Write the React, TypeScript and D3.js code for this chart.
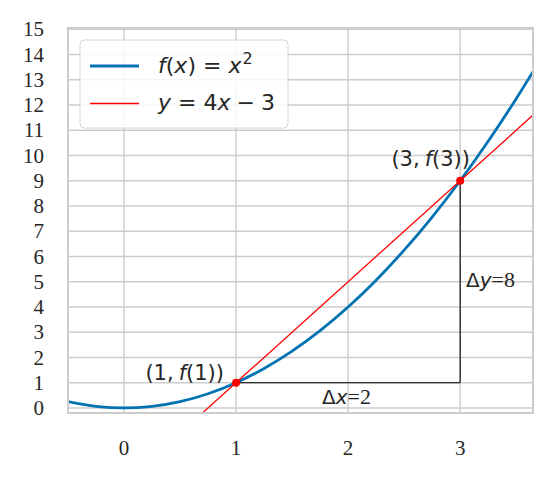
import React from "react";
import * as d3 from "d3";

const W = 552;
const H = 479;

// Data
const xTicks = [0, 1, 2, 3];
const yTicks = [0, 1, 2, 3, 4, 5, 6, 7, 8, 9, 10, 11, 12, 13, 14, 15];
const curveX = [-0.5, -0.25, 0, 0.25, 0.5, 0.75, 1, 1.25, 1.5, 1.75, 2, 2.25, 2.5, 2.75, 3, 3.25, 3.5, 3.65];
const curveY = [0.25, 0.0625, 0, 0.0625, 0.25, 0.5625, 1, 1.5625, 2.25, 3.0625, 4, 5.0625, 6.25, 7.5625, 9, 10.5625, 12.25, 13.3225];
const tangentX = [0.7, 3.65];
const tangentY = [-0.2, 11.6];
const pointsX = [1, 3];
const pointsY = [1, 9];
const xDomain = [-0.5, 3.65];
const yDomain = [-0.2, 15.05];

const MATH = "DejaVu Sans, sans-serif";
const SERIF = "Liberation Serif, serif";

export default function App() {
  const left = 68, right = 533, top = 28, bottom = 413;
  const x = d3.scaleLinear().domain(xDomain).range([left, right]);
  const y = d3.scaleLinear().domain(yDomain).range([bottom, top]);

  const curvePts: [number, number][] = curveX.map((v, i) => [v, curveY[i]]);
  const line = d3
    .line<[number, number]>()
    .x((d) => x(d[0]))
    .y((d) => y(d[1]))
    .curve(d3.curveMonotoneX);

  const grid = "#cccccc";
  const blue = "#0173B2";
  const red = "#ff0000";

  return (
    <svg width={W} height={H} style={{ position: "absolute", left: 0, top: 0 }}>
      <defs>
        <clipPath id="plotclip">
          <rect x={left} y={top} width={right - left} height={bottom - top} />
        </clipPath>
      </defs>
      <rect x={0} y={0} width={W} height={H} fill="#ffffff" />
      {/* grid */}
      {xTicks.map((t) => (
        <line key={"gx" + t} x1={x(t)} x2={x(t)} y1={top} y2={bottom} stroke={grid} strokeWidth={1.4} />
      ))}
      {yTicks.map((t) => (
        <line key={"gy" + t} x1={left} x2={right} y1={y(t)} y2={y(t)} stroke={grid} strokeWidth={1.4} />
      ))}
      <g clipPath="url(#plotclip)">
        <path d={line(curvePts) || ""} fill="none" stroke={blue} strokeWidth={2.8} />
        <line
          x1={x(tangentX[0])}
          y1={y(tangentY[0])}
          x2={x(tangentX[1])}
          y2={y(tangentY[1])}
          stroke={red}
          strokeWidth={1.3}
        />
        <line x1={x(pointsX[0])} y1={y(pointsY[0])} x2={x(pointsX[1])} y2={y(pointsY[0])} stroke="#000" strokeWidth={1.1} />
        <line x1={x(pointsX[1])} y1={y(pointsY[0])} x2={x(pointsX[1])} y2={y(pointsY[1])} stroke="#000" strokeWidth={1.1} />
        {pointsX.map((px, i) => (
          <circle key={"p" + i} cx={x(px)} cy={y(pointsY[i])} r={4} fill={red} />
        ))}
      </g>
      {/* frame */}
      <rect x={left} y={top} width={right - left} height={bottom - top} fill="none" stroke={grid} strokeWidth={2} />

      {/* ticks */}
      {yTicks.map((t) => (
        <text key={"ty" + t} x={44} y={y(t)} dy="0.34em" textAnchor="end" fontFamily={SERIF} fontSize={21} fill="#262626">
          {t}
        </text>
      ))}
      {xTicks.map((t) => (
        <text key={"tx" + t} x={x(t)} y={455} textAnchor="middle" fontFamily={SERIF} fontSize={21} fill="#262626">
          {t}
        </text>
      ))}

      {/* annotations */}
      <text x={224} y={380} textAnchor="end" fontFamily={MATH} fontSize={21} fill="#262626">
        (1,<tspan dx={5} fontStyle="italic">f</tspan>(1))
      </text>
      <text x={470} y={166} textAnchor="end" fontFamily={MATH} fontSize={21} fill="#262626">
        (3,<tspan dx={5} fontStyle="italic">f</tspan>(3))
      </text>
      <text x={322} y={404} fontFamily={MATH} fontSize={20} fill="#262626">
        Δ<tspan fontStyle="italic">x</tspan>
        <tspan fontFamily={SERIF} fontSize={22}>=2</tspan>
      </text>
      <text x={466} y={287} fontFamily={MATH} fontSize={20} fill="#262626">
        Δ<tspan fontStyle="italic">y</tspan>
        <tspan fontFamily={SERIF} fontSize={22}>=8</tspan>
      </text>

      {/* legend */}
      <rect x={80} y={40} width={208} height={88} rx={4} fill="#ffffff" fillOpacity={0.8} stroke="#d6d6d6" strokeWidth={1} />
      <line x1={90} x2={139} y1={66} y2={66} stroke={blue} strokeWidth={2.8} />
      <line x1={90} x2={139} y1={103.5} y2={103.5} stroke={red} strokeWidth={1.3} />
      <text x={158} y={73} fontFamily={MATH} fontSize={22} fill="#262626">
        <tspan fontStyle="italic">f</tspan>(<tspan fontStyle="italic">x</tspan>)
        <tspan dx={7}>=</tspan>
        <tspan dx={7} fontStyle="italic">x</tspan>
        <tspan fontSize={16} dx={1} dy={-9}>2</tspan>
      </text>
      <text x={158} y={110} fontFamily={MATH} fontSize={22} fill="#262626">
        <tspan fontStyle="italic">y</tspan>
        <tspan dx={7}>=</tspan>
        <tspan dx={7}>4</tspan>
        <tspan fontStyle="italic">x</tspan>
        <tspan dx={6}>−</tspan>
        <tspan dx={6}>3</tspan>
      </text>
    </svg>
  );
}
